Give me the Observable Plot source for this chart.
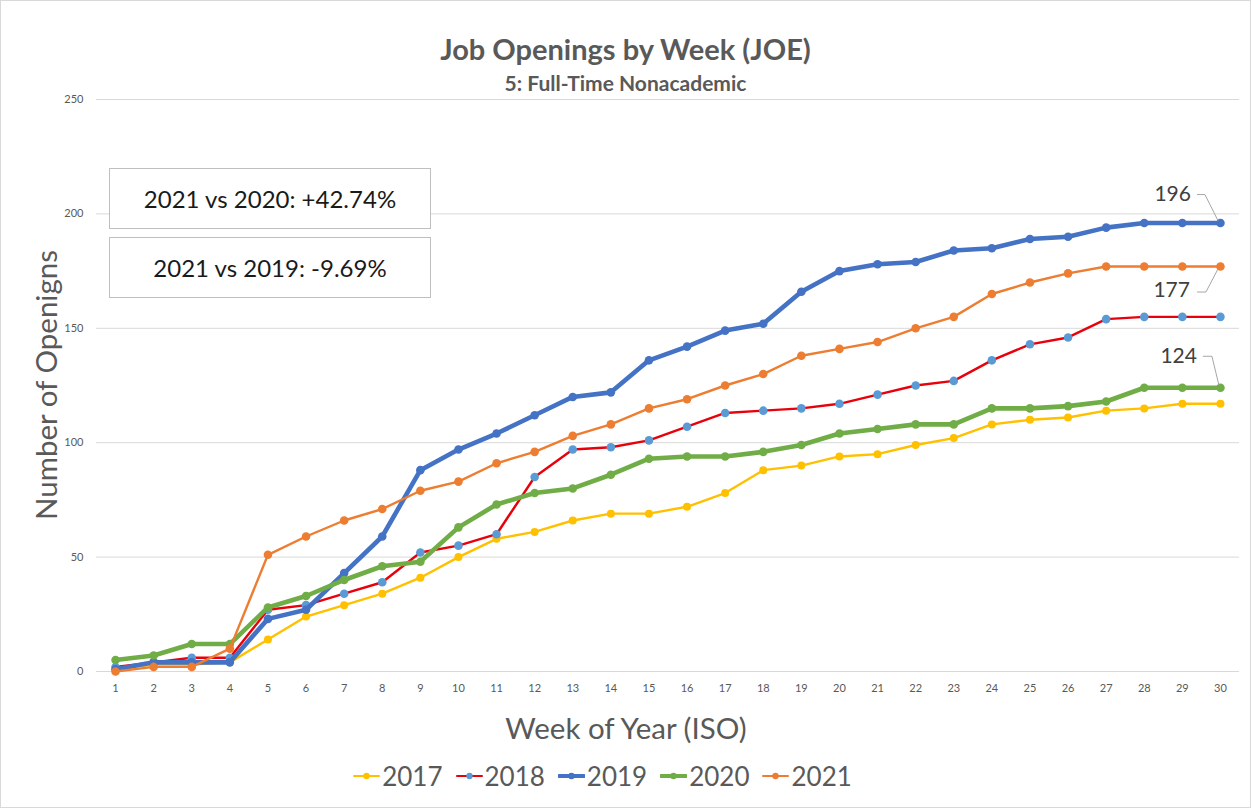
<!DOCTYPE html>
<html><head><meta charset="utf-8">
<script src="https://cdn.jsdelivr.net/npm/d3@7"></script>
<script src="https://cdn.jsdelivr.net/npm/@observablehq/plot@0.6"></script>
<style>
body{margin:0;background:#fff;font-family:Lato,"Open Sans",sans-serif;}
#wrap{position:relative;width:1251px;height:808px;overflow:hidden;background:#fff;}
#frame{position:absolute;left:0;top:0;width:1249px;height:806px;border:1px solid #d9d9d9;pointer-events:none;}
#chart{position:absolute;left:0;top:0;}
.abs{position:absolute;white-space:nowrap;color:#595959;}
#title{left:0;width:1251px;text-align:center;top:32px;font-size:29px;font-weight:bold;line-height:34px;}
#subtitle{left:0;width:1251px;text-align:center;top:70px;font-size:21px;font-weight:bold;line-height:26px;}
#ylab{left:45px;top:385px;font-size:29.5px;transform:translate(-50%,-50%) rotate(-90deg);}
#xlab{left:626px;top:727px;font-size:29.5px;transform:translate(-50%,-50%);}
#legend{left:0;width:1205px;top:776px;transform:translateY(-50%);display:flex;justify-content:center;gap:13px;font-size:26px;}
#legend .item{display:flex;align-items:center;gap:2px;}
.box{position:absolute;left:109px;width:320px;height:59px;border:1px solid #bfbfbf;background:#fff;display:flex;align-items:center;justify-content:center;font-size:24px;color:#1a1a1a;}
</style></head>
<body>
<div id="wrap">
  <div id="chart"></div>
  <div id="title" class="abs">Job Openings by Week (JOE)</div>
  <div id="subtitle" class="abs">5: Full-Time Nonacademic</div>
  <div id="ylab" class="abs">Number of Openigns</div>
  <div id="xlab" class="abs">Week of Year (ISO)</div>
  <div id="box1" class="box" style="top:168px"></div>
  <div id="box2" class="box" style="top:237px"></div>
  <div id="legend" class="abs"></div>
  <div id="frame"></div>
</div>
<script>
const weeks = d3.range(1, 31);
const years = ["2017", "2018", "2019", "2020", "2021"];
const yTicks = [0, 50, 100, 150, 200, 250];
const v2017 = [1,3,3,4,14,24,29,34,41,50,58,61,66,69,69,72,78,88,90,94,95,99,102,108,110,111,114,115,117,117];
const v2018 = [2,4,6,6,27,29,34,39,52,55,60,85,97,98,101,107,113,114,115,117,121,125,127,136,143,146,154,155,155,155];
const v2019 = [1,4,4,4,23,27,43,59,88,97,104,112,120,122,136,142,149,152,166,175,178,179,184,185,189,190,194,196,196,196];
const v2020 = [5,7,12,12,28,33,40,46,48,63,73,78,80,86,93,94,94,96,99,104,106,108,108,115,115,116,118,124,124,124];
const v2021 = [0,2,2,10,51,59,66,71,79,83,91,96,103,108,115,119,125,130,138,141,144,150,155,165,170,174,177,177,177,177];
const seriesValues = [v2017, v2018, v2019, v2020, v2021];
const labelledYears = ["2019", "2021", "2020"];

const styles = {
  "2017": {stroke: "#FFC000", marker: "#FFC000", width: 2.4, r: 4},
  "2018": {stroke: "#E8000B", marker: "#5B9BD5", width: 2.4, r: 4.3},
  "2019": {stroke: "#4472C4", marker: "#4472C4", width: 4.6, r: 4.3},
  "2020": {stroke: "#70AD47", marker: "#70AD47", width: 4.6, r: 4.3},
  "2021": {stroke: "#ED7D31", marker: "#ED7D31", width: 2.4, r: 4.3}
};
// label offsets (px) relative to last point
const labelGeom = {
  "2019": {dx: -29, dy: -27, leader: [[-23,-28],[-15,-28],[-2,-2]]},
  "2021": {dx: -30, dy: 26, leader: [[-23,26],[-14,26],[-2,3]]},
  "2020": {dx: -23, dy: -30, leader: [[-17,-31],[-8,-31],[-1,-2]]}
};

const rows = [];
years.forEach((yr, i) => weeks.forEach((w, j) => rows.push({year: yr, week: w, value: seriesValues[i][j]})));

const marks = [Plot.ruleY(yTicks, {stroke: "#d9d9d9", strokeWidth: 1})];
years.forEach(yr => {
  const d = rows.filter(r => r.year === yr);
  const s = styles[yr];
  marks.push(Plot.line(d, {x: "week", y: "value", stroke: s.stroke, strokeWidth: s.width, strokeLinejoin: "round", strokeLinecap: "round"}));
  marks.push(Plot.dot(d, {x: "week", y: "value", fill: s.marker, r: s.r, stroke: "none"}));
});
// end labels with leader lines
marks.push((index, scales) => {
  const g = d3.create("svg:g");
  labelledYears.forEach(yr => {
    const i = years.indexOf(yr);
    const vals = seriesValues[i];
    const last = vals[vals.length - 1];
    const px = scales.x(weeks[weeks.length - 1]);
    const py = scales.y(last);
    const lg = labelGeom[yr];
    g.append("path")
      .attr("d", "M" + lg.leader.map(p => [px + p[0], py + p[1]].join(",")).join("L"))
      .attr("fill", "none").attr("stroke", "#a6a6a6").attr("stroke-width", 1);
    g.append("text")
      .attr("x", px + lg.dx).attr("y", py + lg.dy)
      .attr("text-anchor", "end").attr("dominant-baseline", "middle")
      .attr("font-size", 21).attr("fill", "#404040")
      .attr("font-family", "Lato, sans-serif")
      .text(last);
  });
  return g.node();
});

const chart = Plot.plot({
  width: 1251,
  height: 808,
  marginTop: 99,
  marginBottom: 137,
  marginLeft: 96,
  marginRight: 12,
  style: {fontSize: "11px", fontFamily: "Lato, sans-serif", color: "#595959", background: "transparent"},
  x: {domain: [0.5, 30.5], ticks: weeks, tickFormat: d => String(d), tickSize: 0, tickPadding: 13, label: null},
  y: {domain: [0, 250], ticks: yTicks, tickSize: 0, tickPadding: 13, label: null},
  marks
});
document.getElementById("chart").appendChild(chart);

// annotation boxes from data
const last = arr => arr[arr.length - 1];
const pct = (a, b) => { const p = (a / b - 1) * 100; return (p >= 0 ? "+" : "") + p.toFixed(2) + "%"; };
document.getElementById("box1").textContent = "2021 vs 2020: " + pct(last(v2021), last(v2020));
document.getElementById("box2").textContent = "2021 vs 2019: " + pct(last(v2021), last(v2019));

// legend
const leg = document.getElementById("legend");
years.forEach(yr => {
  const s = styles[yr];
  const item = document.createElement("div");
  item.className = "item";
  item.innerHTML = `<svg width="27" height="12"><line x1="1" x2="26" y1="6" y2="6" stroke="${s.stroke}" stroke-width="${s.width * 0.85}" stroke-linecap="round"/><circle cx="13.5" cy="6" r="3.2" fill="${s.marker}"/></svg><span>${yr}</span>`;
  leg.appendChild(item);
});
</script>
</body></html>
